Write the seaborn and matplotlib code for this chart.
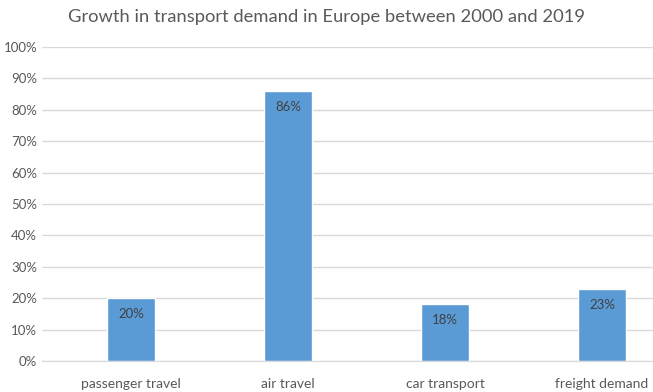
import matplotlib
matplotlib.use("Agg")
import matplotlib.pyplot as plt
import seaborn as sns
import pandas as pd
from matplotlib.ticker import PercentFormatter

sns.set_style("white")
plt.rcParams["font.family"] = ["Lato", "DejaVu Sans"]

# Chart data
categories = ["passenger travel", "air travel", "car transport", "freight demand"]
growth = [20, 86, 18, 23]
df = pd.DataFrame({"category": categories, "growth": growth})

fig = plt.figure(figsize=(6.53, 3.92), dpi=100)
ax = fig.add_axes([42 / 653, 31 / 392, 1 - 42 / 653, 314 / 392])

sns.barplot(data=df, x="category", y="growth", color="#5B9BD5",
            saturation=1, width=0.31, ax=ax, zorder=3)

ax.set_ylim(0, 100)
ax.set_yticks(range(0, 101, 10))
ax.yaxis.set_major_formatter(PercentFormatter(decimals=0))
ax.set_xlim(-0.567, 3.325)
ax.grid(axis="y", color="#D9D9D9", linewidth=1, zorder=0)
for s in ["top", "right", "left"]:
    ax.spines[s].set_visible(False)
ax.spines["bottom"].set_color("#D9D9D9")
ax.tick_params(axis="both", length=0, labelsize=9.5, colors="#595959")
ax.tick_params(axis="x", pad=12, labelsize=10)
ax.set_xlabel("")
ax.set_ylabel("")

# value labels inside bars
for i, v in enumerate(growth):
    ax.annotate(f"{v}%", (i, v), xytext=(0, -16), textcoords="offset pixels",
                ha="center", va="center", fontsize=9.5, color="#404040", zorder=4)

fig.text(0.5, 0.957, "Growth in transport demand in Europe between 2000 and 2019",
         ha="center", va="center", fontsize=13.2, color="#595959")

fig.savefig("out.png", dpi=100)
